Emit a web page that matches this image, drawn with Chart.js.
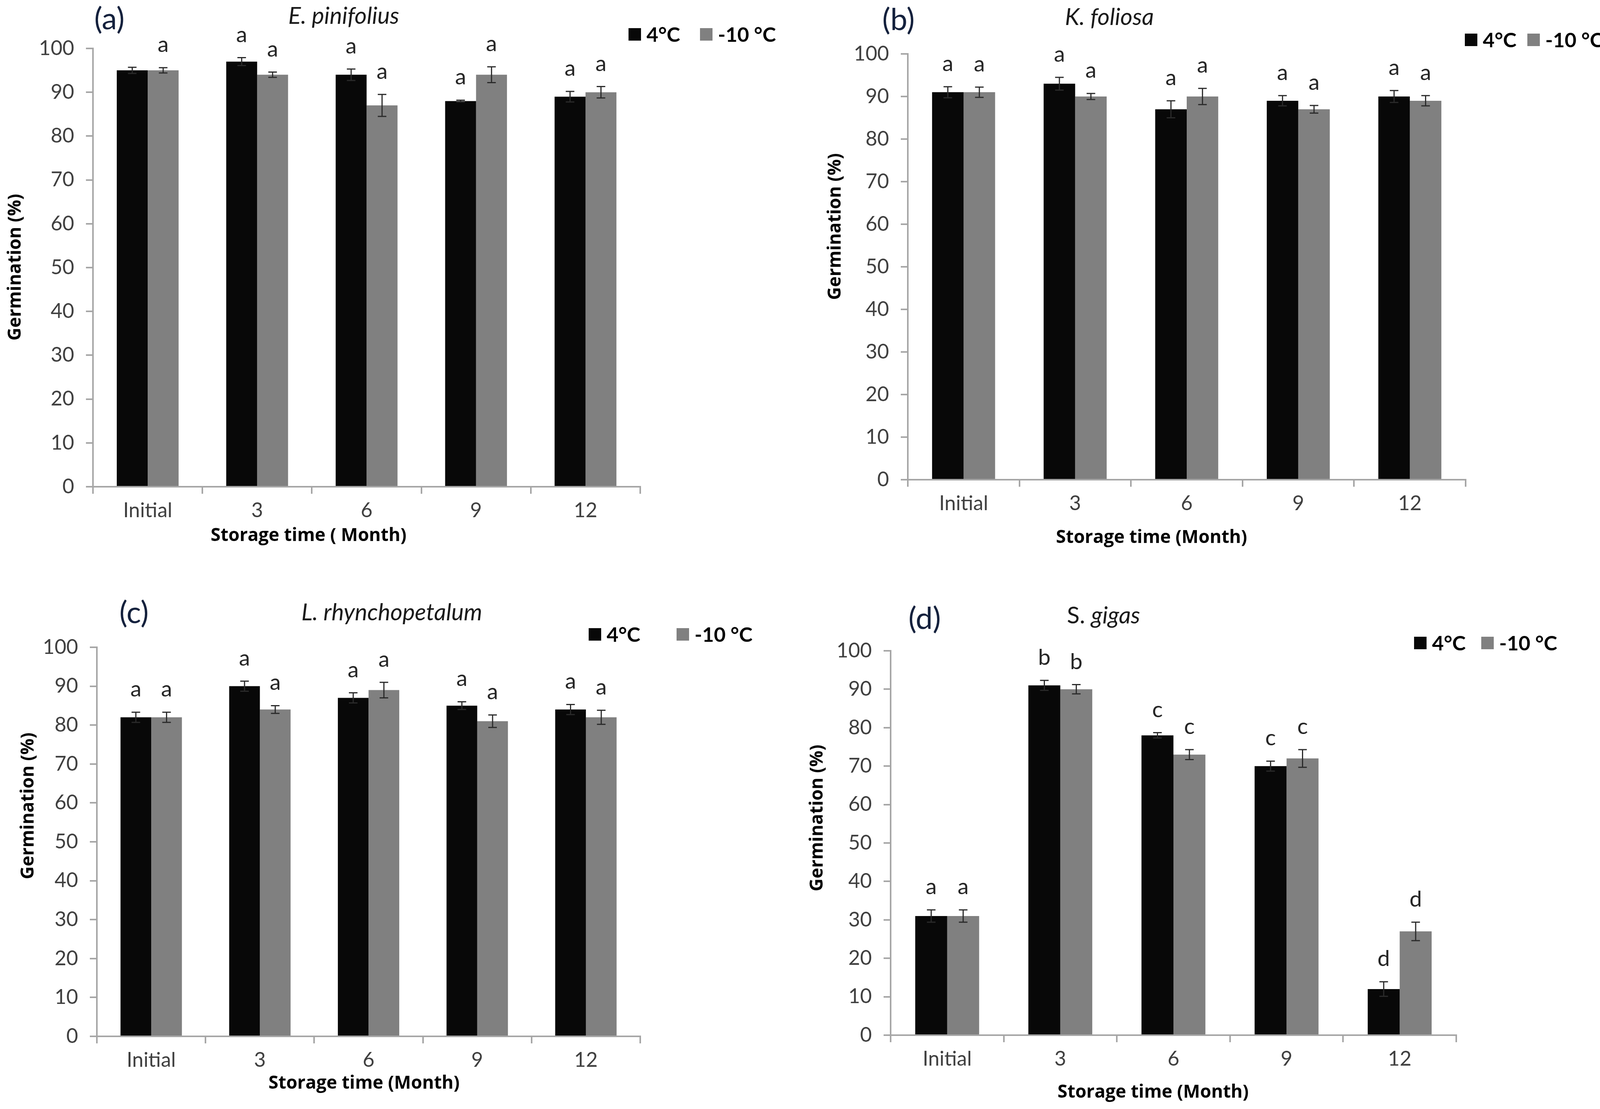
<!DOCTYPE html>
<html>
<head>
<meta charset="utf-8">
<script src="https://cdn.jsdelivr.net/npm/chart.js@4.4.1/dist/chart.umd.min.js"></script>
<style>
  html, body { margin: 0; padding: 0; background: #fff; }
  body { width: 4147px; height: 2839px; position: relative; overflow: hidden; }
  canvas { position: absolute; }
</style>
</head>
<body>
<canvas id="chartA"></canvas>
<canvas id="chartB"></canvas>
<canvas id="chartC"></canvas>
<canvas id="chartD"></canvas>
<script>
// categories and series
var months = ["Initial", "3", "6", "9", "12"];
var seriesNames = ["4°C", "-10 °C"];

// (a) E. pinifolius
var pinifolius4 = [95, 97, 94, 88, 89];
var pinifolius10 = [95, 94, 87, 94, 90];
var pinifoliusErr4 = [0.7, 0.9, 1.3, 0.2, 1.2];
var pinifoliusErr10 = [0.6, 0.6, 2.5, 1.8, 1.3];
var pinifoliusLet4 = ["", "a", "a", "a", "a"];
var pinifoliusLet10 = ["a", "a", "a", "a", "a"];

// (b) K. foliosa
var foliosa4 = [91, 93, 87, 89, 90];
var foliosa10 = [91, 90, 90, 87, 89];
var foliosaErr4 = [1.3, 1.5, 2.0, 1.2, 1.4];
var foliosaErr10 = [1.2, 0.7, 1.9, 0.9, 1.2];
var foliosaLet4 = ["a", "a", "a", "a", "a"];
var foliosaLet10 = ["a", "a", "a", "a", "a"];

// (c) L. rhynchopetalum
var rhyncho4 = [82, 90, 87, 85, 84];
var rhyncho10 = [82, 84, 89, 81, 82];
var rhynchoErr4 = [1.3, 1.3, 1.3, 1.0, 1.3];
var rhynchoErr10 = [1.3, 1.0, 2.0, 1.6, 1.8];
var rhynchoLet4 = ["a", "a", "a", "a", "a"];
var rhynchoLet10 = ["a", "a", "a", "a", "a"];

// (d) S. gigas
var gigas4 = [31, 91, 78, 70, 12];
var gigas10 = [31, 90, 73, 72, 27];
var gigasErr4 = [1.6, 1.3, 0.7, 1.3, 1.9];
var gigasErr10 = [1.6, 1.2, 1.3, 2.3, 2.4];
var gigasLet4 = ["a", "b", "c", "c", "d"];
var gigasLet10 = ["a", "b", "c", "c", "d"];

var yTicks = [0, 10, 20, 30, 40, 50, 60, 70, 80, 90, 100];

var BLACK = "#080808", GREY = "#808080", AXIS = "#a6a6a6";

// page layout for each panel (page pixels)
var panels = [
  { id: "chartA", box: [0, 0, 2073, 1420], area: [238, 124, 1639, 1246],
    tag: "(a)", tagAt: [280, 50], name: [["E. pinifolius", true]], nameAt: [880, 42],
    legend: [1609, 1792, 88], yTitleAt: [40, 684], xTitleAt: [790, 1372], xTitle: "Storage time ( Month)",
    d4: pinifolius4, d10: pinifolius10, e4: pinifoliusErr4, e10: pinifoliusErr10, l4: pinifoliusLet4, l10: pinifoliusLet10 },
  { id: "chartB", box: [2073, 0, 2074, 1420], area: [2324, 138, 3752, 1228],
    tag: "(b)", tagAt: [2300, 52], name: [["K. foliosa", true]], nameAt: [2840, 45],
    legend: [3750, 3910, 102], yTitleAt: [2139, 580], xTitleAt: [2948, 1377], xTitle: "Storage time (Month)",
    d4: foliosa4, d10: foliosa10, e4: foliosaErr4, e10: foliosaErr10, l4: foliosaLet4, l10: foliosaLet10 },
  { id: "chartC", box: [0, 1420, 2073, 1419], area: [248, 1657, 1639, 2653],
    tag: "(c)", tagAt: [343, 1570], name: [["L. rhynchopetalum", true]], nameAt: [1003, 1569],
    legend: [1507, 1732, 1624], yTitleAt: [73, 2063], xTitleAt: [932, 2774], xTitle: "Storage time (Month)",
    d4: rhyncho4, d10: rhyncho10, e4: rhynchoErr4, e10: rhynchoErr10, l4: rhynchoLet4, l10: rhynchoLet10 },
  { id: "chartD", box: [2040, 1420, 2107, 1419], area: [2280, 1666, 3728, 2650],
    tag: "(d)", tagAt: [2367, 1585], name: [["S. ", false], ["gigas", true]], nameAt: [2825, 1577],
    legend: [3620, 3792, 1646], yTitleAt: [2093, 2094], xTitleAt: [2952, 2797], xTitle: "Storage time (Month)",
    d4: gigas4, d10: gigas10, e4: gigasErr4, e10: gigasErr10, l4: gigasLet4, l10: gigasLet10 }
];

var decor = {
  id: "decor",
  afterDatasetsDraw: function (chart) {
    var ctx = chart.ctx, ys = chart.scales.y;
    ctx.save();
    chart.data.datasets.forEach(function (ds, i) {
      chart.getDatasetMeta(i).data.forEach(function (bar, j) {
        var v = ds.data[j], e = ds.errors[j];
        var top = ys.getPixelForValue(v + e), bot = ys.getPixelForValue(v - e);
        ctx.strokeStyle = "#2a2a2a";
        ctx.lineWidth = 3;
        ctx.beginPath();
        ctx.moveTo(bar.x, top); ctx.lineTo(bar.x, bot);
        ctx.moveTo(bar.x - 11, top); ctx.lineTo(bar.x + 11, top);
        ctx.moveTo(bar.x - 11, bot); ctx.lineTo(bar.x + 11, bot);
        ctx.stroke();
        if (ds.letters[j]) {
          ctx.fillStyle = "#262626";
          ctx.font = "57px Lato";
          ctx.textAlign = "center";
          ctx.textBaseline = "alphabetic";
          ctx.fillText(ds.letters[j], bar.x, top - 40);
        }
      });
    });
    ctx.restore();
  },
  afterDraw: function (chart, args, p) {
    var ctx = chart.ctx, ox = p.box[0], oy = p.box[1];
    ctx.save();
    ctx.textBaseline = "middle";
    // panel tag
    ctx.fillStyle = "#14213d";
    ctx.font = "78px Lato";
    ctx.textAlign = "center";
    ctx.fillText(p.tag, p.tagAt[0] - ox, p.tagAt[1] - oy);
    // species name (mixed italic)
    ctx.fillStyle = "#1a1a1a";
    var parts = p.name, total = 0, k;
    for (k = 0; k < parts.length; k++) {
      ctx.font = (parts[k][1] ? "italic " : "") + "60px Lato";
      total += ctx.measureText(parts[k][0]).width;
    }
    var sx = p.nameAt[0] - ox - total / 2;
    ctx.textAlign = "left";
    for (k = 0; k < parts.length; k++) {
      ctx.font = (parts[k][1] ? "italic " : "") + "60px Lato";
      ctx.fillText(parts[k][0], sx, p.nameAt[1] - oy);
      sx += ctx.measureText(parts[k][0]).width;
    }
    // legend
    var sq = 32;
    chart.data.datasets.forEach(function (ds, i) {
      var lx = p.legend[i] - ox, ly = p.legend[2] - oy;
      ctx.fillStyle = ds.backgroundColor;
      ctx.fillRect(lx, ly - sq / 2, sq, sq);
      ctx.fillStyle = "#000";
      ctx.font = "bold 52px Lato";
      ctx.fillText(ds.label, lx + sq + 14, ly + 2);
    });
    // axis titles
    ctx.font = "bold 46px 'Open Sans'";
    ctx.fillStyle = "#000";
    ctx.textAlign = "center";
    ctx.fillText(p.xTitle, p.xTitleAt[0] - ox, p.xTitleAt[1] - oy);
    ctx.translate(p.yTitleAt[0] - ox, p.yTitleAt[1] - oy);
    ctx.rotate(-Math.PI / 2);
    ctx.fillText("Germination (%)", 0, 0);
    ctx.restore();
  }
};

panels.forEach(function (p) {
  var cv = document.getElementById(p.id);
  cv.width = p.box[2];
  cv.height = p.box[3];
  cv.style.left = p.box[0] + "px";
  cv.style.top = p.box[1] + "px";
  cv.style.width = p.box[2] + "px";
  cv.style.height = p.box[3] + "px";

  var leftW = p.area[0] - p.box[0];
  var bottomH = p.box[1] + p.box[3] - p.area[3];

  new Chart(cv.getContext("2d"), {
    type: "bar",
    data: {
      labels: months,
      datasets: [
        { label: seriesNames[0], data: p.d4, errors: p.e4, letters: p.l4, backgroundColor: BLACK },
        { label: seriesNames[1], data: p.d10, errors: p.e10, letters: p.l10, backgroundColor: GREY }
      ]
    },
    options: {
      responsive: false,
      animation: false,
      devicePixelRatio: 1,
      categoryPercentage: 0.565,
      barPercentage: 1.0,
      layout: { padding: { top: p.area[1] - p.box[1], right: p.box[0] + p.box[2] - p.area[2], left: 0, bottom: 0 } },
      plugins: {
        legend: { display: false },
        title: { display: false },
        tooltip: { enabled: false },
        decor: p
      },
      scales: {
        x: {
          grid: { drawOnChartArea: false, drawTicks: true, tickLength: 18, color: AXIS, lineWidth: 4, offset: true },
          border: { display: true, color: AXIS, width: 4 },
          ticks: { color: "#404040", font: { family: "Lato", size: 52 }, padding: 12 },
          afterFit: function (s) { s.height = bottomH; }
        },
        y: {
          min: 0, max: 100,
          afterBuildTicks: function (s) { s.ticks = yTicks.map(function (v) { return { value: v }; }); },
          grid: { drawOnChartArea: false, drawTicks: true, tickLength: 18, color: AXIS, lineWidth: 4 },
          border: { display: true, color: AXIS, width: 4 },
          ticks: { color: "#404040", font: { family: "Lato", size: 52 }, padding: 30 },
          afterFit: function (s) { s.width = leftW; }
        }
      }
    },
    plugins: [decor]
  });
});
</script>
</body>
</html>
